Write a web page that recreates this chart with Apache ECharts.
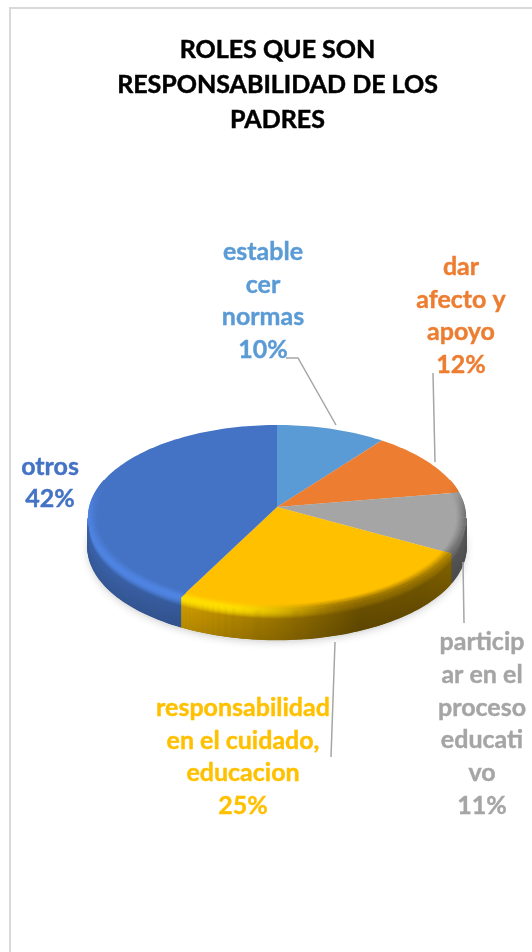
<!DOCTYPE html>
<html>
<head>
<meta charset="utf-8">
<style>html,body{margin:0;padding:0;background:#fff}#c{width:532px;height:952px}</style>
<script src="https://cdn.jsdelivr.net/npm/echarts@6/dist/echarts.min.js"></script>
</head>
<body>
<div id="c"></div>
<script>
const chartTitle = 'ROLES QUE SON\nRESPONSABILIDAD DE LOS\nPADRES';
const categories = ['estable\ncer\nnormas', 'dar\nafecto y\napoyo', 'particip\nar en el\nproceso\neducati\nvo', 'responsabilidad\nen el cuidado,\neducacion', 'otros'];
const values = [10.4, 12.0, 10.6, 24.6, 42.4];
const sliceColors = ['#5B9BD5', '#ED7D31', '#A5A5A5', '#FFC000', '#4472C4'];

// Layout of the hand-placed labels and their leader lines (chart geometry, not data)
const labelPos = [[263, 301], [461, 316], [482, 724], [243, 757], [50, 483]];
const leaders = [
  [[286, 358], [298, 358], [336, 425]],
  [[433, 373], [435, 462]],
  [[463, 562], [464, 623]],
  [[335, 642], [331, 757]],
  null
];

// Projection of the tilted disc
const cx = 277, cy = 507, a = 187.8, b = 91.3, k = 0.1135, depth = 30;
const total = values.reduce((s, v) => s + v, 0);
const rad = d => d * Math.PI / 180;
const extremeR = Math.acos(-k), extremeL = 2 * Math.PI - extremeR;
const ringBack = Math.acos(.3);
function P(th, r, d) {
  const X = r * Math.sin(th), Y = r * Math.cos(th), w = 1 + k * Y;
  return [cx + a * X / w, cy - b * Y / w + d];
}
function bounds(i) {
  let s = 0;
  for (let j = 0; j < i; j++) s += values[j];
  return [s / total * 2 * Math.PI, (s + values[i]) / total * 2 * Math.PI];
}
const hex = h => [1, 3, 5].map(n => parseInt(h.substr(n, 2), 16));
const mix = (p, q, t) => p.map((v, n) => v + (q[n] - v) * t);
const mul = (p, m) => p.map(v => Math.min(255, v * m));
const css = p => 'rgb(' + p.map(v => Math.round(v)).join(',') + ')';
const sstep = (e0, e1, x) => { const t = Math.max(0, Math.min(1, (x - e0) / (e1 - e0))); return t * t * (3 - 2 * t); };
const shadeStops = [[0, .9], [.27, .82], [.5, .62], [.72, .42], [.88, .45], [1, .55]];
function shade(u) {
  for (let n = 1; n < shadeStops.length; n++) {
    if (u <= shadeStops[n][0]) {
      const A = shadeStops[n - 1], B = shadeStops[n];
      return A[1] + (B[1] - A[1]) * (u - A[0]) / (B[0] - A[0]);
    }
  }
  return .55;
}
function wallColor(base, th, d) {
  const u = (P(th, 1, 0)[0] - 88) / 377;
  return mul(base, shade(u) * (1 - .14 * d / depth));
}
function highlight(base, th) {
  const u = (P(th, 1, 0)[0] - 88) / 377;
  return mix(mul(base, 1.17), mix(base, wallColor(base, th, 0), .75), sstep(.35, .68, u));
}
const frontness = th => sstep(.3, -.1, Math.cos(th));

function arcSteps(t0, t1, step) {
  const n = Math.max(1, Math.ceil((t1 - t0) / step)), out = [];
  for (let j = 0; j <= n; j++) out.push(t0 + (t1 - t0) * j / n);
  return out;
}
// Clips an angle range to [lo, hi] and splits it where the outline turns, so x is monotone on each piece
function pieces(t0, t1, lo, hi, cuts) {
  const s = Math.max(t0, lo), e = Math.min(t1, hi), out = [];
  if (s >= e) return out;
  let p = s;
  cuts.forEach(c => { if (c > p && c < e) { out.push([p, c]); p = c; } });
  out.push([p, e]);
  return out;
}
// One arc of the rim, coloured along its length by a function of the angle
function rimRow(p0, p1, r, d, colorAt, width) {
  const ts = arcSteps(p0, p1, rad(1.5));
  const pts = ts.map(t => P(t, r, d));
  const xs = pts.map(q => q[0]);
  const x0 = Math.min.apply(null, xs), x1 = Math.max.apply(null, xs);
  const stops = ts.map((t, n) => ({
    offset: x1 > x0 ? (xs[n] - x0) / (x1 - x0) : 0, color: css(colorAt(t))
  })).sort((A, B) => A.offset - B.offset);
  const grad = new echarts.graphic.LinearGradient(x0, 0, x1, 0, stops, true);
  return { type: 'polyline', silent: true, shape: { points: pts },
    style: { fill: 'none', stroke: grad, lineWidth: width, lineCap: 'butt', lineJoin: 'round' } };
}

function renderWall(params) {
  const i = params.dataIndex, [t0, t1] = bounds(i), base = hex(sliceColors[i]), ch = [];
  pieces(t0, t1, extremeR, extremeL, []).forEach(([p0, p1]) => {
    const ts = arcSteps(p0, p1, rad(1.5));
    const pts = ts.map(t => P(t, 1, 0)).concat(ts.slice().reverse().map(t => P(t, 1, depth)));
    ch.push({ type: 'polygon', silent: true, shape: { points: pts },
      style: { fill: css(wallColor(base, (p0 + p1) / 2, depth / 2)) } });
    for (let d = 0.5; d < depth; d += 1) {
      const s = d / 9;
      ch.push(rimRow(p0, p1, 1, d, t => {
        let col = wallColor(base, t, d);
        if (s < 1) col = mix(mix(base, highlight(base, t), frontness(t)), col, s * s);
        return col;
      }, 1.6));
    }
  });
  return { type: 'group', children: ch };
}

function renderTop(params) {
  const i = params.dataIndex, [t0, t1] = bounds(i), base = hex(sliceColors[i]), ch = [];
  const ts = arcSteps(t0, t1, rad(1.5));
  const pts = [P(0, 0, 0)].concat(ts.map(t => P(t, 1, 0)));
  ch.push({ type: 'polygon', silent: true, shape: { points: pts }, style: { fill: sliceColors[i] } });
  const rings = [.955, .965, .975, .985, .995];
  pieces(t0, t1, ringBack, 2 * Math.PI - ringBack, [extremeR, extremeL]).forEach(([p0, p1]) => {
    rings.forEach((r, n) => {
      const s = (n + .5) / rings.length;
      ch.push(rimRow(p0, p1, r, 0, t => mix(base, highlight(base, t), frontness(t) * s), 2.2));
    });
  });
  return { type: 'group', children: ch };
}

function renderShadow() {
  const pts = arcSteps(0, 2 * Math.PI, rad(3)).map(t => P(t, 1.0, depth + 2));
  return { type: 'polygon', silent: true, shape: { points: pts },
    style: { fill: '#e2e2e2', shadowBlur: 9, shadowColor: '#cfcfcf' } };
}

function renderLabel(params) {
  const i = params.dataIndex, ch = [];
  const pct = Math.round(values[i] / total * 100) + '%';
  if (leaders[i]) {
    ch.push({ type: 'polyline', silent: true, shape: { points: leaders[i] },
      style: { fill: 'none', stroke: '#A6A6A6', lineWidth: 1.5 } });
  }
  ch.push({ type: 'text', silent: true, style: {
    x: labelPos[i][0], y: labelPos[i][1], text: categories[i] + '\n' + pct,
    align: 'center', verticalAlign: 'middle', fill: sliceColors[i],
    stroke: sliceColors[i], lineWidth: .4,
    font: '700 25px Lato', lineHeight: 32.7 } });
  return { type: 'group', children: ch };
}

const seriesData = values.map(v => [v]);
const chart = echarts.init(document.getElementById('c'), null, { renderer: 'canvas' });
chart.setOption({
  animation: false,
  backgroundColor: '#fff',
  title: {
    text: chartTitle, left: 272.5, top: 27, textAlign: 'center',
    textStyle: { color: '#000', fontFamily: 'Lato', fontWeight: 700, fontSize: 25, lineHeight: 35,
      textBorderColor: '#000', textBorderWidth: .5 }
  },
  graphic: [{
    type: 'rect', silent: true, z: -1,
    shape: { x: 10, y: 8, width: 700, height: 1100 },
    style: { fill: '#fff', stroke: '#D9D9D9', lineWidth: 2 }
  }],
  series: [
    { type: 'custom', coordinateSystem: 'none', z: 1, data: [[1]], renderItem: renderShadow },
    { type: 'custom', coordinateSystem: 'none', z: 2, data: seriesData, renderItem: renderWall },
    { type: 'custom', coordinateSystem: 'none', z: 3, data: seriesData, renderItem: renderTop },
    { type: 'custom', coordinateSystem: 'none', z: 4, data: seriesData, renderItem: renderLabel }
  ]
});
</script>
</body>
</html>
